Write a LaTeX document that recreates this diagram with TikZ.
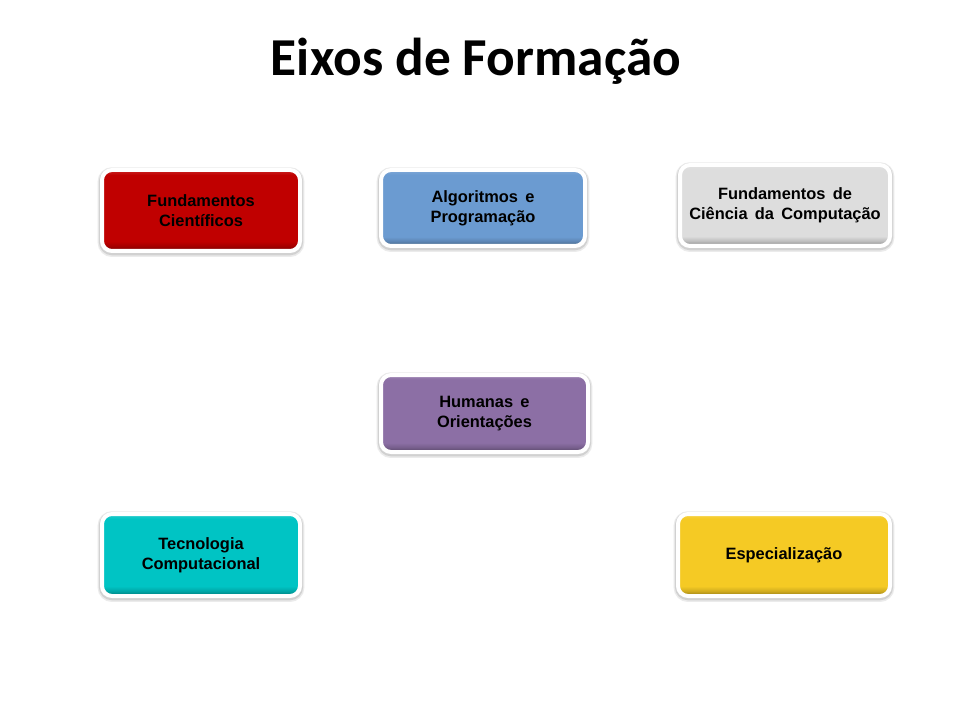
\documentclass[tikz,border=0pt]{standalone}
\usepackage{fontspec}
\setmainfont{Liberation Sans}
\newfontfamily\titlefont{Carlito}
\newfontfamily\eixofont[WordSpace=1.6]{Liberation Sans}

\definecolor{eixored}{RGB}{192,0,0}
\definecolor{eixoblue}{RGB}{107,155,209}
\definecolor{eixogray}{RGB}{221,221,221}
\definecolor{eixopurple}{RGB}{140,111,165}
\definecolor{eixoteal}{RGB}{0,196,196}
\definecolor{eixoyellow}{RGB}{245,202,36}
\colorlet{eixocor}{eixored}
\pgfdeclareverticalshading[eixocor]{eixobevel}{100bp}{color(0bp)=(eixocor!60!black); color(25bp)=(eixocor!60!black); color(28bp)=(eixocor!85!black); color(31bp)=(eixocor); color(72bp)=(eixocor); color(75bp)=(eixocor!85!white); color(100bp)=(eixocor!85!white)}

\begin{document}
\begin{tikzpicture}[x=0.75pt, y=-0.75pt]
\tikzset{
  eixo/.style  = {shape=rectangle, rounded corners=7.5pt,
                  draw=white, line width=3pt, inner sep=0pt,
                  /utils/exec={\colorlet{eixocor}{#1}}, shading=eixobevel,
                  preaction={draw=black!8, line width=6.5pt,
                             transform canvas={yshift=-1.2pt}},
                  preaction={draw=black!18, line width=4.6pt,
                             transform canvas={yshift=-0.9pt}},
                  align=center, text=black,
                  font=\eixofont\bfseries\fontsize{12.3}{15}\selectfont},
  titulo/.style = {font=\titlefont\bfseries\fontsize{40}{48}\selectfont}
}
  \useasboundingbox[fill=white] (0,0) rectangle (960,720);
  \node[titulo] (title) at (476,61) {Eixos de Formação};

  \node[eixo=eixored, minimum width=148.5pt, minimum height=60.75pt]
    (fundcien) at (201,210.5) {Fundamentos\\Científicos};
  \node[eixo=eixoblue, minimum width=153pt, minimum height=57pt]
    (algprog) at (483,208) {Algoritmos e\\Programação};
  \node[eixo=eixogray, minimum width=157.5pt, minimum height=60.75pt]
    (fundcc) at (785,205.5) {Fundamentos de\\Ciência da Computação};
  \node[eixo=eixopurple, minimum width=155.25pt, minimum height=57.75pt]
    (humor) at (484.5,413.5) {Humanas e\\Orientações};
  \node[eixo=eixoteal, minimum width=148.5pt, minimum height=61.5pt]
    (tecomp) at (201,555) {Tecnologia\\Computacional};
  \node[eixo=eixoyellow, minimum width=159pt, minimum height=61.5pt]
    (espec) at (784,555) {Especialização};
\end{tikzpicture}
\end{document}
